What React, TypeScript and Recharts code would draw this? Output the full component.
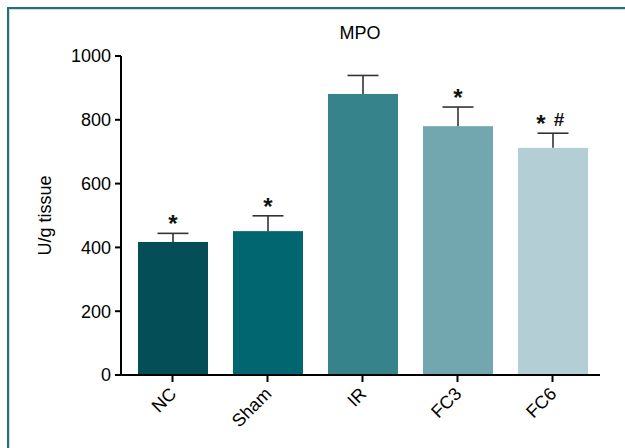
import React from "react";
import { BarChart, Bar, XAxis, YAxis, Cell } from "recharts";

const groups = ["NC", "Sham", "IR", "FC3", "FC6"];
const means = [417, 451, 881, 780, 712];
const sems = [27, 48, 58, 60, 46];
const stars = [true, true, false, true, true];
const hashes = [false, false, false, false, true];
const fills = ["#044e57", "#016670", "#36838b", "#72a7b0", "#b3cfd5"];
const yTicks = [0, 200, 400, 600, 800, 1000];

const data = groups.map((name, i) => ({
  name,
  mean: means[i],
  sem: sems[i],
  star: stars[i],
  hash: hashes[i],
}));

const font = "'Liberation Sans', Arial, sans-serif";

// bar with an upward-only error whisker and significance marks on top
const BarWithError = (props: any) => {
  const { x, y, width, height, fill, payload } = props;
  const pxPerUnit = height / payload.mean;
  const top = y - payload.sem * pxPerUnit;
  const cx = x + width / 2;
  const capHalf = 15.5;
  const starX = payload.hash ? cx - 12 : cx;
  return (
    <g>
      <rect x={x} y={y} width={width} height={height} fill={fill} />
      <line x1={cx} y1={y} x2={cx} y2={top} stroke="#333" strokeWidth={1.6} />
      <line x1={cx - capHalf} y1={top} x2={cx + capHalf} y2={top} stroke="#333" strokeWidth={1.6} />
      {payload.star && (
        <text x={starX} y={top - 1} textAnchor="middle" fontSize={24} fontWeight="bold" fontFamily={font} fill="#111">
          *
        </text>
      )}
      {payload.hash && (
        <text x={cx + 6} y={top - 7} textAnchor="middle" fontSize={19} fontWeight="bold" fontFamily={font} fill="#111">
          #
        </text>
      )}
    </g>
  );
};

const AngledTick = (props: any) => {
  const { x, y, payload } = props;
  return (
    <text
      x={x + 5}
      y={y + 11}
      transform={`rotate(-45, ${x + 5}, ${y + 11})`}
      textAnchor="end"
      fontSize={18}
      fontFamily={font}
      fill="#000"
    >
      {payload.value}
    </text>
  );
};

export default function App() {
  return (
    <div style={{ position: "absolute", left: 0, top: 0, width: 625, height: 448, background: "#fff" }}>
      <div
        style={{
          position: "absolute",
          left: 7,
          top: 7,
          right: 0,
          bottom: 0,
          borderTop: "2px solid #2b6e75",
          borderLeft: "2px solid #2b6e75",
        }}
      >
        <div style={{ position: "absolute", inset: 0, borderTop: "1px solid #c3e0e5", borderLeft: "1px solid #c3e0e5" }} />
      </div>
      <div style={{ position: "absolute", left: 0, top: 0 }}>
        <BarChart width={625} height={448} data={data} margin={{ top: 56, right: 25, left: 0, bottom: 0 }}>
          <text x={360} y={39} textAnchor="middle" fontSize={18} fontFamily={font} fill="#000">
            MPO
          </text>
          <XAxis
            dataKey="name"
            height={73}
            padding={{ left: 4, right: 0 }}
            axisLine={{ stroke: "#000", strokeWidth: 2 }}
            tickLine={{ stroke: "#000", strokeWidth: 2 }}
            tickSize={7}
            tick={<AngledTick />}
            interval={0}
          />
          <YAxis
            width={121}
            domain={[0, 1000]}
            ticks={yTicks}
            interval={0}
            axisLine={{ stroke: "#000", strokeWidth: 2 }}
            tickLine={{ stroke: "#000", strokeWidth: 2 }}
            tickSize={6}
            tickMargin={4}
            tick={{ fill: "#000", fontSize: 18, fontFamily: font }}
            label={{
              value: "U/g tissue",
              angle: -90,
              position: "insideLeft",
              dx: 40,
              style: { textAnchor: "middle", fill: "#000", fontSize: 18, fontFamily: font },
            }}
          />
          <Bar dataKey="mean" barSize={70} shape={<BarWithError />} isAnimationActive={false}>
            {data.map((d, i) => (
              <Cell key={d.name} fill={fills[i]} />
            ))}
          </Bar>
        </BarChart>
      </div>
    </div>
  );
}
